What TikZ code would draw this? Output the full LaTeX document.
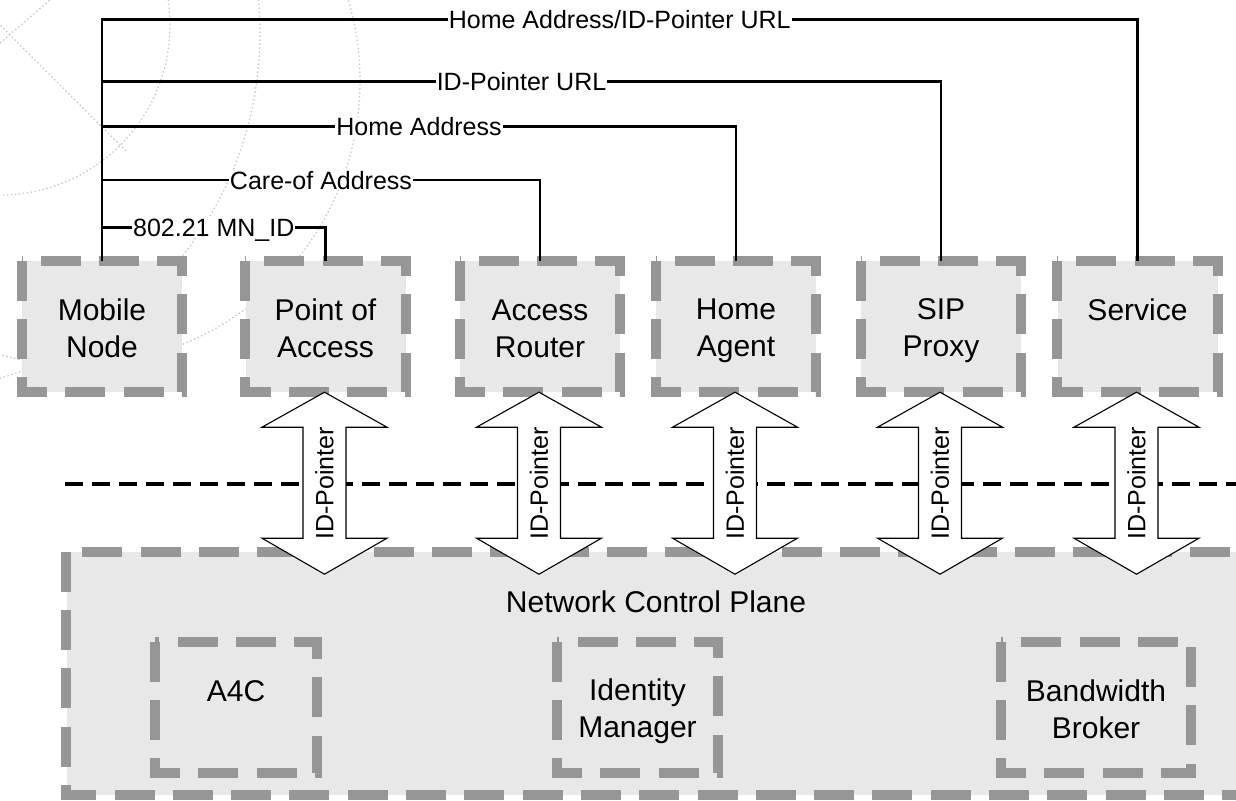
\documentclass[tikz,border=0pt]{standalone}
\usepackage{fontspec}
\setmainfont{Liberation Sans}
\usetikzlibrary{calc}
\definecolor{dgray}{RGB}{150,150,150}
\definecolor{lgray}{RGB}{232,232,232}
\definecolor{cgray}{RGB}{200,200,200}
\newcommand\bstr{\rule[-6pt]{0pt}{36pt}}
\begin{document}
\begin{tikzpicture}[x=1pt,y=-1pt,
  boxfill/.style={fill=lgray, draw=none, inner sep=0pt, align=center, font=\fontsize{30}{37}\selectfont},
  topbox/.style={boxfill, minimum width=160pt, minimum height=131pt},
  border/.style={draw=dgray, line width=10pt, dash pattern=on 40pt off 18.3pt, line join=miter, line cap=butt},
  conn/.style={draw=black, line width=2.5pt, line join=miter},
  lbl/.style={fill=white, inner sep=1pt, font=\fontsize{25}{30}\selectfont, text height=18pt, text depth=0pt},
  blockarrow/.style={draw=black, fill=white, line width=1.1pt, line join=miter},
  arrowtext/.style={rotate=90, inner sep=0pt, font=\fontsize{25}{30}\selectfont},
  bg/.style={draw=cgray, line width=1.3pt, dash pattern=on 1.5pt off 2.5pt},
  divider/.style={draw=black, line width=3.5pt, dash pattern=on 18pt off 9pt}
]
\useasboundingbox (0,0) rectangle (1236,800);
\clip (0,0) rectangle (1236,800);

% faint background decoration
\draw[bg] (0,25) circle[radius=170pt];
\draw[bg] (-99,33) circle[radius=359pt];
\draw[bg] (76,81) circle[radius=284pt];
\draw[bg] (-25,0) -- (127,152);
\draw[bg] (0,43) -- (50,0);

% network control plane
\node[boxfill, minimum width=1183.3pt, minimum height=243pt] (ncp) at (658.3,673.5) {};
\node[font=\fontsize{30}{37}\selectfont, anchor=base, inner sep=0pt] (ncpt) at (656,612) {Network Control Plane};

\node[boxfill, minimum width=162pt, minimum height=131pt] (a4c) at (236,707.5) {\bstr A4C\\\bstr};
\node[boxfill, minimum width=161pt, minimum height=131pt] (idm) at (637.5,707.5) {\bstr Identity\\\bstr Manager};
\node[boxfill, minimum width=190pt, minimum height=131pt] (bwb) at (1096,707.5) {\bstr Bandwidth\\\bstr Broker};

% divider line
\coordinate (divL) at (65,484);
\coordinate (divR) at (1240,484);
\draw[divider] (divL) -- (divR);

% top boxes
\node[topbox] (mn)  at (102,326.5)   {\bstr Mobile\\\bstr Node};
\node[topbox] (poa) at (325.5,326.5) {\bstr Point of\\\bstr Access};
\node[topbox] (ar)  at (540,326.5)   {\bstr Access\\\bstr Router};
\node[topbox] (ha)  at (736,326.5)   {\bstr Home\\\bstr Agent};
\node[topbox] (sip) at (941,326.5)   {\bstr SIP\\\bstr Proxy};
\node[topbox] (svc) at (1137.5,326.5){\bstr Service\\\bstr};

% dashed borders
\foreach \n in {ncp,a4c,idm,bwb,mn,poa,ar,ha,sip,svc}{
  \draw[border] (\n.north west) -- (\n.south west) -- (\n.south east) -- (\n.north east) -- cycle;
}

% ID-Pointer block arrows
\foreach \n in {poa,ar,ha,sip,svc}{
  \coordinate (c\n) at ($(\n.south)+(-1,91)$);
  \draw[blockarrow] ($(c\n)+(0,-91)$) -- ++(62.5,35) -- ++(-41,0) -- ++(0,111) -- ++(41,0)
     -- ++(-62.5,36) -- ++(-62.5,-36) -- ++(41,0) -- ++(0,-111) -- ++(-41,0) -- cycle;
  \node[arrowtext] (t\n) at (c\n) {ID-Pointer};
}

% connectors from the mobile node
\coordinate (j1) at (mn.north |- 0,19.3);
\coordinate (j2) at (mn.north |- 0,81.5);
\coordinate (j3) at (mn.north |- 0,126.5);
\coordinate (j4) at (mn.north |- 0,180);
\coordinate (j5) at (mn.north |- 0,227.3);
\draw[conn] (mn.north) -- (j1) -- node[lbl] (l1) {Home Address/ID-Pointer URL} (svc.north |- j1) -- (svc.north);
\draw[conn] (j2) -- node[lbl] (l2) {ID-Pointer URL} (sip.north |- j2) -- (sip.north);
\draw[conn] (j3) -- node[lbl] (l3) {Home Address} (ha.north |- j3) -- (ha.north);
\draw[conn] (j4) -- node[lbl] (l4) {Care-of Address} (ar.north |- j4) -- (ar.north);
\draw[conn] (j5) -- node[lbl] (l5) {802.21 MN\_ID} (poa.north |- j5) -- (poa.north);
\end{tikzpicture}
\end{document}
